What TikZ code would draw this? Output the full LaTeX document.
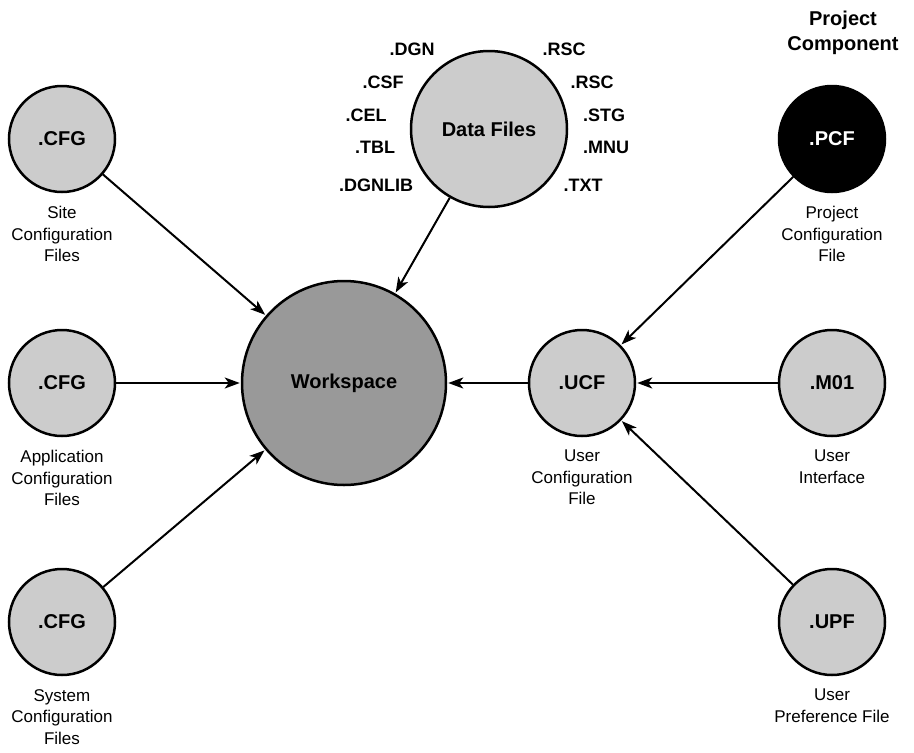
\documentclass[tikz,border=0pt]{standalone}
\usepackage{fontspec}
\setmainfont{Liberation Sans}
\usetikzlibrary{arrows.meta}
\begin{document}
\begin{tikzpicture}[x=1pt,y=-1pt,
  ball/.style={circle,draw=black,line width=2.5pt,fill=gray!40,inner sep=0pt,
    minimum size=106pt,font=\fontsize{20}{24}\selectfont\bfseries},
  bigball/.style={ball,fill=gray!80,minimum size=204pt},
  databall/.style={ball,minimum size=156pt},
  darkball/.style={ball,fill=black,text=white},
  caption/.style={anchor=north,align=center,inner sep=0pt,
    font=\fontsize{17}{21.5}\selectfont},
  ext/.style={inner sep=0pt,font=\fontsize{18}{22}\selectfont\bfseries},
  arr/.style={line width=2pt,-{Stealth[length=15pt,width=11pt,inset=4pt]},shorten >=1pt}
]
\useasboundingbox (0,0) rectangle (914,753);

% central workspace and data files
\node[bigball] (ws) at (344,383) {Workspace};
\node[databall] (data) at (489,129) {Data Files};

% data file extensions
\node[ext] (dgn)    at (412,49)  {.DGN};
\node[ext] (csf)    at (383,82)  {.CSF};
\node[ext] (cel)    at (366,115) {.CEL};
\node[ext] (tbl)    at (375,147) {.TBL};
\node[ext] (dgnlib) at (376,185) {.DGNLIB};
\node[ext] (rsca)   at (564,49)  {.RSC};
\node[ext] (rscb)   at (592,82)  {.RSC};
\node[ext] (stg)    at (604,115) {.STG};
\node[ext] (mnu)    at (606,147) {.MNU};
\node[ext] (txt)    at (583,185) {.TXT};

% configuration files on the left
\node[ball] (site) at (62,139) {.CFG};
\node[ball] (app)  at (62,383) {.CFG};
\node[ball] (sys)  at (62,622) {.CFG};
\node[caption] (sitel) at (62,206) {Site\\Configuration\\Files};
\node[caption] (appl)  at (62,450) {Application\\Configuration\\Files};
\node[caption] (sysl)  at (62,689) {System\\Configuration\\Files};

% user side
\node[ball] (ucf) at (582,383) {.UCF};
\node[caption] (ucfl) at (582,450) {User\\Configuration\\File};
\node[darkball] (pcf) at (832,139) {.PCF};
\node[caption] (pcfl) at (832,206) {Project\\Configuration\\File};
\node[ball] (m01) at (832,383) {.M01};
\node[caption] (m01l) at (832,450) {User\\Interface};
\node[ball] (upf) at (832,622) {.UPF};
\node[caption] (upfl) at (832,689) {User\\Preference File};

\node[align=center,inner sep=0pt,font=\fontsize{20}{25}\selectfont\bfseries]
  (title) at (843,33) {Project\\Component};

% connectors
\draw[arr] (site) -- (ws);
\draw[arr] (app) -- (ws);
\draw[arr] (sys) -- (ws);
\draw[arr] (data) -- (ws);
\draw[arr] (ucf) -- (ws);
\draw[arr] (pcf) -- (ucf);
\draw[arr] (m01) -- (ucf);
\draw[arr] (upf) -- (ucf);
\end{tikzpicture}
\end{document}
